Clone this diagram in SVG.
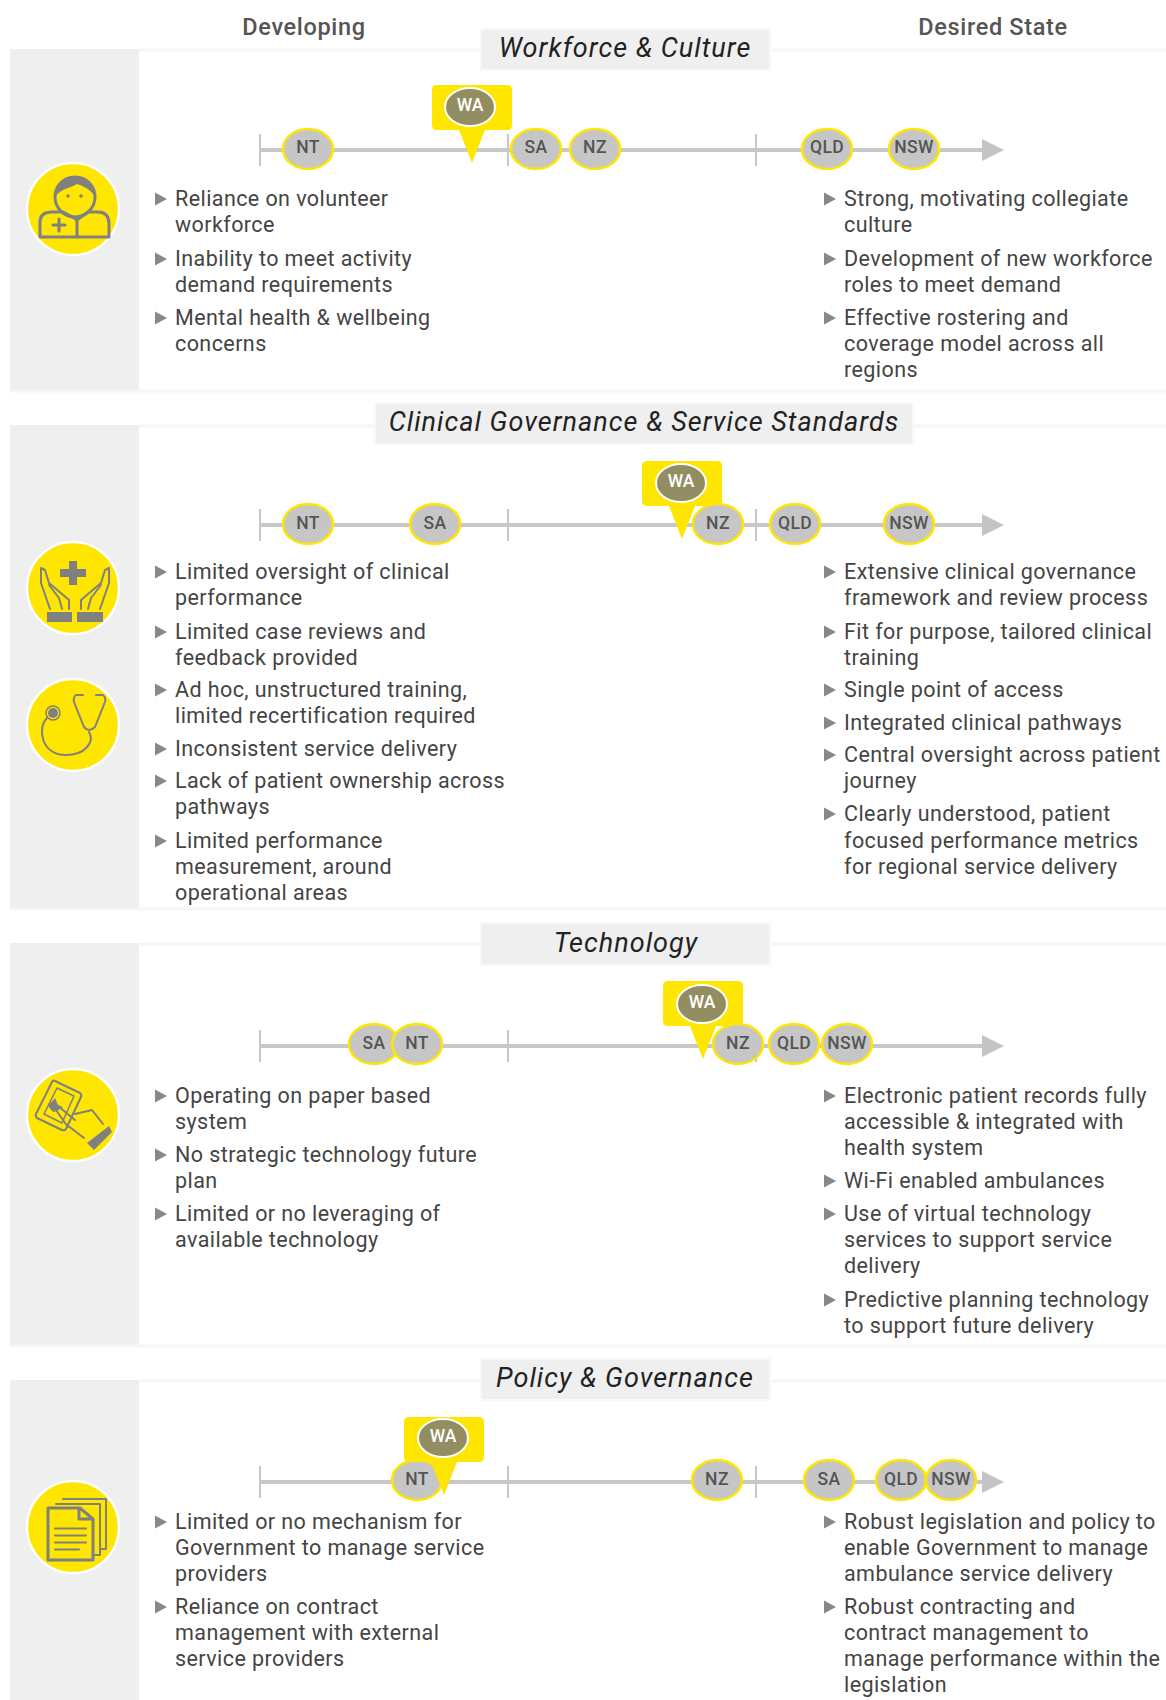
<svg xmlns="http://www.w3.org/2000/svg" xmlns:xlink="http://www.w3.org/1999/xlink" width="1166" height="1700" viewBox="0 0 1166 1700">
<style>
text{font-family:"Roboto","Liberation Sans",sans-serif}
.g{fill:#efefef}
.edge{stroke:#f6f6f6;stroke-width:3;fill:none}
.tb{fill:#efefef;stroke:#f8f8f8;stroke-width:2}
.tt{font-size:27px;font-style:italic;fill:#222;text-anchor:middle;letter-spacing:1.03px}
.hd{font-size:23.5px;font-weight:500;fill:#555;text-anchor:middle;letter-spacing:.65px}
.b{font-size:21.5px;fill:#444;letter-spacing:.42px}
.ax{stroke:#c8c8c8;stroke-width:4;fill:none}
.tk{stroke:#c8c8c8;stroke-width:2;fill:none}
.ah{fill:#c4c4c4}
.ov{fill:#c6c6c6;stroke:#ffe600;stroke-width:2.500}
.ol{font-size:17.5px;font-weight:500;fill:#555;text-anchor:middle;letter-spacing:.4px}
.co{fill:#ffe600}
.wa{fill:#928e62;stroke:#fff;stroke-width:2}
.wl{font-size:17.5px;font-weight:500;fill:#fff;text-anchor:middle}
.ci{fill:#ffe600;stroke:#fff;stroke-width:2.500}
.ic{fill:none;stroke:#808080;stroke-width:3;stroke-linejoin:round;stroke-linecap:round}
.t2{stroke-width:2}
.t1{stroke-width:1.500}
.if{fill:#808080}
.bu{fill:#888}
</style>
<defs>
<path id="bt" d="M0 -6.500L12 0L0 6.500Z" class="bu"/>
<g id="ax"><path class="ax" d="M260 0H984"/><path class="tk" d="M260 -16V16M508 -16V16M756 -16V16"/><path class="ah" d="M982 -11L1004 0L982 11Z"/></g>
<path id="call" class="co" d="M-35 -78H35Q40 -78 40 -73V-38Q40 -33 35 -33H13L0 0L-13 -33H-35Q-40 -33 -40 -38V-73Q-40 -78 -35 -78Z"/>
</defs>

<g id="headers"><text class="hd" x="304" y="35">Developing</text><text class="hd" x="993" y="35">Desired State</text></g>

<g id="section-workforce">
<rect class="g" x="10" y="49" width="129" height="341"/><path class="edge" d="M139 50H1166M10 391H1166"/>
<rect class="tb" x="481" y="29" width="289" height="41"/><text class="tt" x="625" y="57">Workforce &amp; Culture</text>
<use href="#ax" y="150"/>
<g id="wf-NT"><ellipse class="ov" cx="308" cy="149" rx="25" ry="20"/><text class="ol" x="308" y="153">NT</text></g>
<g id="wf-SA"><ellipse class="ov" cx="536" cy="149" rx="25" ry="20"/><text class="ol" x="536" y="153">SA</text></g>
<g id="wf-NZ"><ellipse class="ov" cx="595" cy="149" rx="25" ry="20"/><text class="ol" x="595" y="153">NZ</text></g>
<g id="wf-QLD"><ellipse class="ov" cx="827" cy="149" rx="25" ry="20"/><text class="ol" x="827" y="153">QLD</text></g>
<g id="wf-NSW"><ellipse class="ov" cx="914" cy="149" rx="25" ry="20"/><text class="ol" x="914" y="153">NSW</text></g>
<g id="wf-WA"><use href="#call" x="472" y="163"/><ellipse class="wa" cx="470" cy="107" rx="25" ry="19"/><text class="wl" x="470" y="111">WA</text></g>
<g id="icon-person"><circle class="ci" cx="73" cy="209" r="46"/><g transform="translate(73,209)">
<circle class="ic" cx="2" cy="-12" r="20"/><path class="if" d="M-18 -12C-20 -40 24 -40 22 -12C18 -20 10 -23 4 -25C-2 -21 -12 -21 -18 -12Z"/>
<circle class="if" cx="-5" cy="-13" r="1.800"/><circle class="if" cx="8" cy="-13" r="1.800"/>
<path class="ic" d="M-33 28V13Q-33 3 -21 3H-10Q0 8 4 11Q8 8 15 3H25Q36 3 36 15V28H-33M4 11V28"/>
<path class="ic" d="M-20 16H-8M-14 10V22"/></g></g>
<use href="#bt" x="155" y="199"/><text class="b" x="175" y="206">Reliance on volunteer</text><text class="b" x="175" y="232">workforce</text>
<use href="#bt" x="155" y="259"/><text class="b" x="175" y="266">Inability to meet activity</text><text class="b" x="175" y="292">demand requirements</text>
<use href="#bt" x="155" y="318"/><text class="b" x="175" y="325">Mental health &amp; wellbeing</text><text class="b" x="175" y="351">concerns</text>
<use href="#bt" x="824" y="199"/><text class="b" x="844" y="206">Strong, motivating collegiate</text><text class="b" x="844" y="232">culture</text>
<use href="#bt" x="824" y="259"/><text class="b" x="844" y="266">Development of new workforce</text><text class="b" x="844" y="292">roles to meet demand</text>
<use href="#bt" x="824" y="318"/><text class="b" x="844" y="325">Effective rostering and</text><text class="b" x="844" y="351">coverage model across all</text><text class="b" x="844" y="377">regions</text>
</g>

<g id="section-clinical">
<rect class="g" x="10" y="425" width="129" height="483"/><path class="edge" d="M139 426H1166M10 909H1166"/>
<rect class="tb" x="375" y="403" width="538" height="41"/><text class="tt" x="644" y="431">Clinical Governance &amp; Service Standards</text>
<use href="#ax" y="525"/>
<g id="cg-WA"><use href="#call" x="682" y="539"/><ellipse class="wa" cx="681" cy="483" rx="25" ry="19"/><text class="wl" x="681" y="487">WA</text></g>
<g id="cg-NT"><ellipse class="ov" cx="308" cy="524" rx="25" ry="20"/><text class="ol" x="308" y="529">NT</text></g>
<g id="cg-SA"><ellipse class="ov" cx="435" cy="524" rx="25" ry="20"/><text class="ol" x="435" y="529">SA</text></g>
<g id="cg-NZ"><ellipse class="ov" cx="718" cy="524" rx="25" ry="20"/><text class="ol" x="718" y="529">NZ</text></g>
<g id="cg-QLD"><ellipse class="ov" cx="795" cy="524" rx="25" ry="20"/><text class="ol" x="795" y="529">QLD</text></g>
<g id="cg-NSW"><ellipse class="ov" cx="909" cy="524" rx="25" ry="20"/><text class="ol" x="909" y="529">NSW</text></g>
<g id="icon-hands"><circle class="ci" cx="73" cy="588" r="46"/><g transform="translate(73,588)">
<path class="if" d="M-4 -27H4V-19H13V-11H4V-3H-4V-11H-13V-19H-4Z"/>
<path class="if" d="M-26 24H-1V34H-26ZM4 24H30V34H4Z"/>
<path class="ic t2" d="M-23 21L-32 -5V-20L-28 -18L-24 -5L-4 12V21M-24 -3L-14 10L-11 21"/>
<path class="ic t2" d="M27 21L36 -5V-20L32 -18L28 -5L8 12V21M28 -3L18 10L15 21"/>
</g></g>
<g id="icon-stethoscope"><circle class="ci" cx="73" cy="725" r="46"/><g transform="translate(73,724)">
<circle class="if" cx="-20" cy="-11" r="5"/><circle class="ic t1" cx="-20" cy="-11" r="7"/>
<path class="ic t2" d="M-26 -6C-36 4 -32 31 -7 31C12 31 22 18 16 8M10 -29H3Q0 -27 1 -22L11 3Q16 9 22 3L32 -22Q33 -27 30 -29H23"/></g></g>
<use href="#bt" x="155" y="572"/><text class="b" x="175" y="579">Limited oversight of clinical</text><text class="b" x="175" y="605">performance</text>
<use href="#bt" x="155" y="632"/><text class="b" x="175" y="639">Limited case reviews and</text><text class="b" x="175" y="665">feedback provided</text>
<use href="#bt" x="155" y="690"/><text class="b" x="175" y="697">Ad hoc, unstructured training,</text><text class="b" x="175" y="723">limited recertification required</text>
<use href="#bt" x="155" y="749"/><text class="b" x="175" y="756">Inconsistent service delivery</text>
<use href="#bt" x="155" y="781"/><text class="b" x="175" y="788">Lack of patient ownership across</text><text class="b" x="175" y="814">pathways</text>
<use href="#bt" x="155" y="841"/><text class="b" x="175" y="848">Limited performance</text><text class="b" x="175" y="874">measurement, around</text><text class="b" x="175" y="900">operational areas</text>
<use href="#bt" x="824" y="572"/><text class="b" x="844" y="579">Extensive clinical governance</text><text class="b" x="844" y="605">framework and review process</text>
<use href="#bt" x="824" y="632"/><text class="b" x="844" y="639">Fit for purpose, tailored clinical</text><text class="b" x="844" y="665">training</text>
<use href="#bt" x="824" y="690"/><text class="b" x="844" y="697">Single point of access</text>
<use href="#bt" x="824" y="723"/><text class="b" x="844" y="730">Integrated clinical pathways</text>
<use href="#bt" x="824" y="755"/><text class="b" x="844" y="762">Central oversight across patient</text><text class="b" x="844" y="788">journey</text>
<use href="#bt" x="824" y="814"/><text class="b" x="844" y="821">Clearly understood, patient</text><text class="b" x="844" y="848">focused performance metrics</text><text class="b" x="844" y="874">for regional service delivery</text>
</g>

<g id="section-technology">
<rect class="g" x="10" y="943" width="129" height="402"/><path class="edge" d="M139 944H1166M10 1346H1166"/>
<rect class="tb" x="481" y="923" width="289" height="42"/><text class="tt" x="626" y="952">Technology</text>
<use href="#ax" y="1046"/>
<g id="te-WA"><use href="#call" x="703" y="1059"/><ellipse class="wa" cx="702" cy="1004" rx="25" ry="19"/><text class="wl" x="702" y="1008">WA</text></g>
<g id="te-SA"><ellipse class="ov" cx="374" cy="1044" rx="25" ry="20"/><text class="ol" x="374" y="1049">SA</text></g>
<g id="te-NT"><ellipse class="ov" cx="417" cy="1044" rx="25" ry="20"/><text class="ol" x="417" y="1049">NT</text></g>
<g id="te-NZ"><ellipse class="ov" cx="738" cy="1044" rx="25" ry="20"/><text class="ol" x="738" y="1049">NZ</text></g>
<g id="te-QLD"><ellipse class="ov" cx="794" cy="1044" rx="25" ry="20"/><text class="ol" x="794" y="1049">QLD</text></g>
<g id="te-NSW"><ellipse class="ov" cx="847" cy="1044" rx="25" ry="20"/><text class="ol" x="847" y="1049">NSW</text></g>
<g id="icon-tablet"><circle class="ci" cx="73" cy="1115" r="46"/><g transform="translate(73,1115)">
<path class="ic t2" d="M-18 -34L7 -22Q9 -20 8 -18L-7 14Q-9 16 -11 15L-36 3Q-38 1 -37 -1L-21 -33Q-20 -35 -18 -34Z"/>
<path class="ic t1" d="M-16 -27L1 -19L-11 8L-29 -1Z"/>
<path class="if" d="M-25 -9L-18 -17L-15 -10L-10 -8L-16 -4L-20 -3Z"/>
<path class="ic t2" d="M-15 -9L2 5M2 -1L19 -5L30 9M-6 10L11 23M-17 -5L-5 12"/>
<path class="if" d="M36 11L39 17L21 35L14 28Z"/></g></g>
<use href="#bt" x="155" y="1096"/><text class="b" x="175" y="1103">Operating on paper based</text><text class="b" x="175" y="1129">system</text>
<use href="#bt" x="155" y="1155"/><text class="b" x="175" y="1162">No strategic technology future</text><text class="b" x="175" y="1188">plan</text>
<use href="#bt" x="155" y="1214"/><text class="b" x="175" y="1221">Limited or no leveraging of</text><text class="b" x="175" y="1247">available technology</text>
<use href="#bt" x="824" y="1096"/><text class="b" x="844" y="1103">Electronic patient records fully</text><text class="b" x="844" y="1129">accessible &amp; integrated with</text><text class="b" x="844" y="1155">health system</text>
<use href="#bt" x="824" y="1181"/><text class="b" x="844" y="1188">Wi-Fi enabled ambulances</text>
<use href="#bt" x="824" y="1214"/><text class="b" x="844" y="1221">Use of virtual technology</text><text class="b" x="844" y="1247">services to support service</text><text class="b" x="844" y="1273">delivery</text>
<use href="#bt" x="824" y="1300"/><text class="b" x="844" y="1307">Predictive planning technology</text><text class="b" x="844" y="1333">to support future delivery</text>
</g>

<g id="section-policy">
<rect class="g" x="10" y="1380" width="129" height="320"/><path class="edge" d="M139 1381H1166"/>
<rect class="tb" x="481" y="1359" width="289" height="41"/><text class="tt" x="625" y="1387">Policy &amp; Governance</text>
<use href="#ax" y="1482"/>
<g id="po-NT"><ellipse class="ov" cx="417" cy="1480" rx="25" ry="20"/><text class="ol" x="417" y="1485">NT</text></g>
<g id="po-WA"><use href="#call" x="444" y="1495"/><ellipse class="wa" cx="443" cy="1438" rx="25" ry="19"/><text class="wl" x="443" y="1442">WA</text></g>
<g id="po-NZ"><ellipse class="ov" cx="717" cy="1480" rx="25" ry="20"/><text class="ol" x="717" y="1485">NZ</text></g>
<g id="po-SA"><ellipse class="ov" cx="829" cy="1480" rx="25" ry="20"/><text class="ol" x="829" y="1485">SA</text></g>
<g id="po-QLD"><ellipse class="ov" cx="901" cy="1480" rx="25" ry="20"/><text class="ol" x="901" y="1485">QLD</text></g>
<g id="po-NSW"><ellipse class="ov" cx="951" cy="1480" rx="25" ry="20"/><text class="ol" x="951" y="1485">NSW</text></g>
<g id="icon-documents"><circle class="ci" cx="73" cy="1527" r="46"/><g transform="translate(73,1527)">
<path class="ic" d="M-25 -19H7L20 -8V33H-25ZM6 -19V-8H20"/>
<path class="ic t2" d="M-18 1.500H13M-18 8.500H13M-18 15.500H13M-18 22.500H6"/>
<path class="ic t2" d="M-17 -23H27V28H21M-10 -28H33V22H27"/></g></g>
<use href="#bt" x="155" y="1522"/><text class="b" x="175" y="1529">Limited or no mechanism for</text><text class="b" x="175" y="1555">Government to manage service</text><text class="b" x="175" y="1581">providers</text>
<use href="#bt" x="155" y="1607"/><text class="b" x="175" y="1614">Reliance on contract</text><text class="b" x="175" y="1640">management with external</text><text class="b" x="175" y="1666">service providers</text>
<use href="#bt" x="824" y="1522"/><text class="b" x="844" y="1529">Robust legislation and policy to</text><text class="b" x="844" y="1555">enable Government to manage</text><text class="b" x="844" y="1581">ambulance service delivery</text>
<use href="#bt" x="824" y="1607"/><text class="b" x="844" y="1614">Robust contracting and</text><text class="b" x="844" y="1640">contract management to</text><text class="b" x="844" y="1666">manage performance within the</text><text class="b" x="844" y="1692">legislation</text>
</g>
</svg>
